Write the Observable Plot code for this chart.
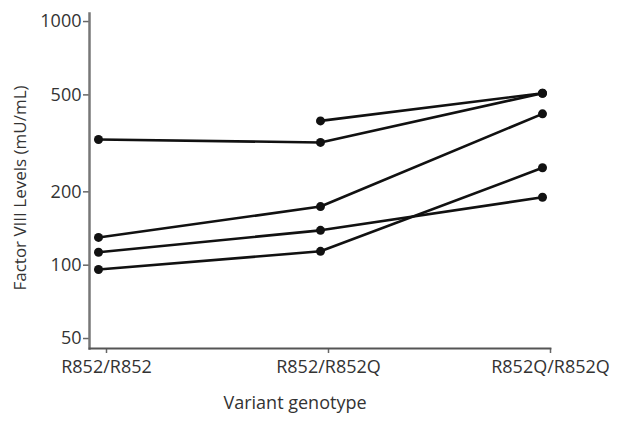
<!DOCTYPE html>
<html>
<head>
<meta charset="utf-8">
<script src="https://cdn.jsdelivr.net/npm/d3@7"></script>
<script src="https://cdn.jsdelivr.net/npm/@observablehq/plot@0.6"></script>
<style>
  html, body { margin: 0; padding: 0; background: #fff; }
</style>
</head>
<body>
<div id="chart"></div>
<script>
const genotypes = ["R852/R852", "R852/R852Q", "R852Q/R852Q"];
const seriesA = [null, 391, 508];
const seriesB = [328, 319, 508];
const seriesC = [130, 174, 418];
const seriesD = [113, 139, 190];
const seriesE = [96, 114, 251];
const yTicks = [50, 100, 200, 500, 1000];
const yLabel = "Factor VIII Levels (mU/mL)";
const xLabel = "Variant genotype";

const series = {A: seriesA, B: seriesB, C: seriesC, D: seriesD, E: seriesE};
const data = [];
for (const [id, vals] of Object.entries(series)) {
  vals.forEach((v, i) => { if (v != null) data.push({id, genotype: genotypes[i], value: v}); });
}

const chart = Plot.plot({
  width: 624,
  height: 431,
  marginLeft: 89,
  marginRight: 74,
  marginTop: 13,
  marginBottom: 83,
  style: {fontFamily: "'Open Sans', sans-serif", fontSize: "18px", color: "#333", background: "#fff"},
  x: {type: "point", domain: genotypes, range: [97, 542], padding: 0, label: null},
  y: {type: "log", domain: [45.5, 1079], label: null},
  marks: [
    Plot.axisX({tickSize: 5, tickPadding: 7, stroke: "#666", strokeWidth: 1.5, fontSize: 18, fill: "#333", dx: 8}),
    Plot.axisY({ticks: yTicks, tickFormat: d => String(d), tickSize: 6, tickPadding: 2, stroke: "#666", strokeWidth: 1.5, fontSize: 18, fill: "#333"}),
    Plot.frame({anchor: "left", stroke: "#777", strokeWidth: 2.5}),
    Plot.frame({anchor: "bottom", stroke: "#555", strokeWidth: 1.8}),
    Plot.line(data, {x: "genotype", y: "value", z: "id", stroke: "#111", strokeWidth: 2.6}),
    Plot.dot(data, {x: "genotype", y: "value", r: 4.5, fill: "#111", stroke: "none"}),
    Plot.text([yLabel], {frameAnchor: "left", textAnchor: "middle", dx: -69, dy: 7, rotate: -90, fontSize: 17, fill: "#333"}),
    Plot.text([xLabel], {frameAnchor: "bottom", dx: -25, dy: 60, fontSize: 18, fill: "#333"})
  ]
});
document.getElementById("chart").appendChild(chart);
</script>
</body>
</html>
